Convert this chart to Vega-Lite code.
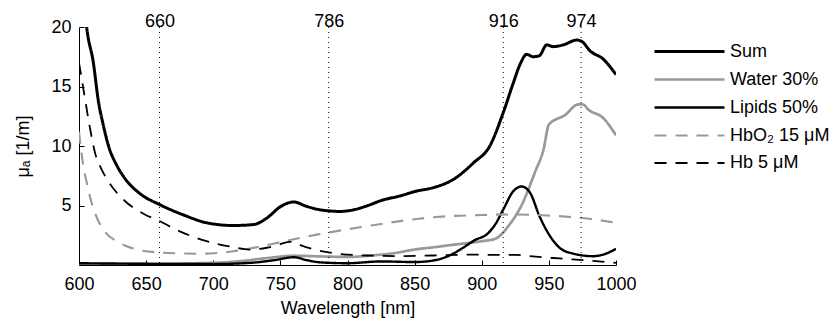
{
  "$schema": "https://vega.github.io/schema/vega-lite/v6.json",
  "width": 537,
  "height": 238,
  "autosize": "none",
  "padding": {"left": 79, "top": 27, "right": 219, "bottom": 56},
  "config": {
    "view": {"stroke": null},
    "font": "Liberation Sans",
    "axis": {"grid": false, "domainColor": "black", "tickColor": "black", "labelColor": "black", "titleColor": "black", "labelFontSize": 18, "titleFontSize": 18, "titleFontWeight": "normal", "labelFont": "Liberation Sans", "titleFont": "Liberation Sans"},
    "legend": {"labelFont": "Liberation Sans", "labelFontSize": 18, "labelColor": "black"}
  },
  "layer": [
    {
      "data": {"values": [
        {"s":"Sum","wl":600,"v":28},{"s":"Sum","wl":605.7,"v":20},{"s":"Sum","wl":610.7,"v":17.0},{"s":"Sum","wl":614.4,"v":13.8},{"s":"Sum","wl":618,"v":11.8},{"s":"Sum","wl":622,"v":10.0},{"s":"Sum","wl":628,"v":8.4},{"s":"Sum","wl":634,"v":7.3},{"s":"Sum","wl":646,"v":5.95},{"s":"Sum","wl":660,"v":5.08},{"s":"Sum","wl":678,"v":4.2},{"s":"Sum","wl":695,"v":3.55},{"s":"Sum","wl":715,"v":3.32},{"s":"Sum","wl":730,"v":3.4},{"s":"Sum","wl":740,"v":3.95},{"s":"Sum","wl":750,"v":4.9},{"s":"Sum","wl":760,"v":5.3},{"s":"Sum","wl":769,"v":4.95},{"s":"Sum","wl":779,"v":4.65},{"s":"Sum","wl":786,"v":4.55},{"s":"Sum","wl":794,"v":4.5},{"s":"Sum","wl":805,"v":4.65},{"s":"Sum","wl":814,"v":4.95},{"s":"Sum","wl":826,"v":5.45},{"s":"Sum","wl":839,"v":5.8},{"s":"Sum","wl":851,"v":6.2},{"s":"Sum","wl":864,"v":6.5},{"s":"Sum","wl":879,"v":7.2},{"s":"Sum","wl":894,"v":8.6},{"s":"Sum","wl":906,"v":10.0},{"s":"Sum","wl":916,"v":12.8},{"s":"Sum","wl":923.5,"v":15.3},{"s":"Sum","wl":928.5,"v":16.85},{"s":"Sum","wl":933.5,"v":17.7},{"s":"Sum","wl":938.4,"v":17.5},{"s":"Sum","wl":943,"v":17.6},{"s":"Sum","wl":948.4,"v":18.5},{"s":"Sum","wl":953.3,"v":18.35},{"s":"Sum","wl":960.8,"v":18.5},{"s":"Sum","wl":970.7,"v":18.9},{"s":"Sum","wl":974.4,"v":18.8},{"s":"Sum","wl":980.6,"v":18.0},{"s":"Sum","wl":990.5,"v":17.3},{"s":"Sum","wl":1000,"v":16.0},
        {"s":"Water 30%","wl":600,"v":0.08},{"s":"Water 30%","wl":650,"v":0.1},{"s":"Water 30%","wl":700,"v":0.18},{"s":"Water 30%","wl":720,"v":0.32},{"s":"Water 30%","wl":740,"v":0.58},{"s":"Water 30%","wl":760,"v":0.78},{"s":"Water 30%","wl":780,"v":0.72},{"s":"Water 30%","wl":800,"v":0.68},{"s":"Water 30%","wl":820,"v":0.82},{"s":"Water 30%","wl":835,"v":1.0},{"s":"Water 30%","wl":850,"v":1.3},{"s":"Water 30%","wl":865,"v":1.5},{"s":"Water 30%","wl":875,"v":1.65},{"s":"Water 30%","wl":890,"v":1.85},{"s":"Water 30%","wl":900,"v":2.0},{"s":"Water 30%","wl":910,"v":2.2},{"s":"Water 30%","wl":920,"v":3.3},{"s":"Water 30%","wl":930,"v":5.1},{"s":"Water 30%","wl":940,"v":7.9},{"s":"Water 30%","wl":946,"v":9.7},{"s":"Water 30%","wl":950,"v":11.8},{"s":"Water 30%","wl":962,"v":12.6},{"s":"Water 30%","wl":972,"v":13.5},{"s":"Water 30%","wl":975,"v":13.5},{"s":"Water 30%","wl":980,"v":13.0},{"s":"Water 30%","wl":990,"v":12.4},{"s":"Water 30%","wl":1000,"v":10.9},
        {"s":"Lipids 50%","wl":600,"v":0.15},{"s":"Lipids 50%","wl":650,"v":0.1},{"s":"Lipids 50%","wl":700,"v":0.08},{"s":"Lipids 50%","wl":730,"v":0.2},{"s":"Lipids 50%","wl":745,"v":0.4},{"s":"Lipids 50%","wl":760,"v":0.65},{"s":"Lipids 50%","wl":770,"v":0.4},{"s":"Lipids 50%","wl":780,"v":0.22},{"s":"Lipids 50%","wl":800,"v":0.15},{"s":"Lipids 50%","wl":825,"v":0.3},{"s":"Lipids 50%","wl":850,"v":0.25},{"s":"Lipids 50%","wl":865,"v":0.4},{"s":"Lipids 50%","wl":875,"v":0.75},{"s":"Lipids 50%","wl":884,"v":1.3},{"s":"Lipids 50%","wl":895,"v":2.1},{"s":"Lipids 50%","wl":904,"v":2.6},{"s":"Lipids 50%","wl":910,"v":3.4},{"s":"Lipids 50%","wl":916,"v":4.66},{"s":"Lipids 50%","wl":923.5,"v":6.2},{"s":"Lipids 50%","wl":929.7,"v":6.6},{"s":"Lipids 50%","wl":936,"v":6.07},{"s":"Lipids 50%","wl":943,"v":4.1},{"s":"Lipids 50%","wl":951,"v":2.4},{"s":"Lipids 50%","wl":958,"v":1.45},{"s":"Lipids 50%","wl":968,"v":0.96},{"s":"Lipids 50%","wl":983,"v":0.74},{"s":"Lipids 50%","wl":990.6,"v":0.88},{"s":"Lipids 50%","wl":1000,"v":1.36},
        {"s":"HbO₂ 15 μM","wl":600,"v":11.2},{"s":"HbO₂ 15 μM","wl":603,"v":8.5},{"s":"HbO₂ 15 μM","wl":606,"v":6.8},{"s":"HbO₂ 15 μM","wl":610,"v":5.0},{"s":"HbO₂ 15 μM","wl":614,"v":3.8},{"s":"HbO₂ 15 μM","wl":620,"v":2.7},{"s":"HbO₂ 15 μM","wl":628,"v":2.0},{"s":"HbO₂ 15 μM","wl":635,"v":1.6},{"s":"HbO₂ 15 μM","wl":645,"v":1.25},{"s":"HbO₂ 15 μM","wl":660,"v":1.05},{"s":"HbO₂ 15 μM","wl":690,"v":0.95},{"s":"HbO₂ 15 μM","wl":715,"v":1.15},{"s":"HbO₂ 15 μM","wl":735,"v":1.55},{"s":"HbO₂ 15 μM","wl":755,"v":2.05},{"s":"HbO₂ 15 μM","wl":777,"v":2.55},{"s":"HbO₂ 15 μM","wl":800,"v":3.0},{"s":"HbO₂ 15 μM","wl":825,"v":3.45},{"s":"HbO₂ 15 μM","wl":850,"v":3.85},{"s":"HbO₂ 15 μM","wl":875,"v":4.1},{"s":"HbO₂ 15 μM","wl":900,"v":4.2},{"s":"HbO₂ 15 μM","wl":925,"v":4.25},{"s":"HbO₂ 15 μM","wl":950,"v":4.15},{"s":"HbO₂ 15 μM","wl":975,"v":3.95},{"s":"HbO₂ 15 μM","wl":1000,"v":3.55},
        {"s":"Hb 5 μM","wl":600,"v":17.0},{"s":"Hb 5 μM","wl":604,"v":14.3},{"s":"Hb 5 μM","wl":608,"v":11.6},{"s":"Hb 5 μM","wl":612,"v":9.4},{"s":"Hb 5 μM","wl":617,"v":8.0},{"s":"Hb 5 μM","wl":622,"v":7.0},{"s":"Hb 5 μM","wl":634,"v":5.4},{"s":"Hb 5 μM","wl":649,"v":4.25},{"s":"Hb 5 μM","wl":660,"v":3.7},{"s":"Hb 5 μM","wl":670,"v":3.1},{"s":"Hb 5 μM","wl":695,"v":2.0},{"s":"Hb 5 μM","wl":715,"v":1.5},{"s":"Hb 5 μM","wl":727,"v":1.3},{"s":"Hb 5 μM","wl":740,"v":1.45},{"s":"Hb 5 μM","wl":750,"v":1.75},{"s":"Hb 5 μM","wl":757,"v":1.95},{"s":"Hb 5 μM","wl":767,"v":1.58},{"s":"Hb 5 μM","wl":777,"v":1.25},{"s":"Hb 5 μM","wl":789,"v":1.0},{"s":"Hb 5 μM","wl":814,"v":0.8},{"s":"Hb 5 μM","wl":839,"v":0.75},{"s":"Hb 5 μM","wl":864,"v":0.8},{"s":"Hb 5 μM","wl":890,"v":0.87},{"s":"Hb 5 μM","wl":915,"v":0.85},{"s":"Hb 5 μM","wl":925,"v":0.85},{"s":"Hb 5 μM","wl":940,"v":0.7},{"s":"Hb 5 μM","wl":958,"v":0.55},{"s":"Hb 5 μM","wl":983,"v":0.35},{"s":"Hb 5 μM","wl":1000,"v":0.18}
      ]},
      "mark": {"type": "line", "interpolate": "monotone", "clip": true},
      "encoding": {
        "x": {"field": "wl", "type": "quantitative", "scale": {"domain": [600, 1000], "nice": false, "zero": false},
              "axis": {"orient": "bottom", "values": [600,650,700,750,800,850,900,950,1000], "format": "d", "title": "Wavelength [nm]", "tickSize": -5, "labelPadding": 15, "titlePadding": 6, "labelFlush": false}},
        "y": {"field": "v", "type": "quantitative", "scale": {"domain": [0, 20], "nice": false},
              "axis": {"values": [5,10,15,20], "title": "μₐ [1/m]", "tickSize": -5, "labelPadding": 13, "titlePadding": 18}},
        "color": {"field": "s", "type": "nominal", "sort": null,
                  "scale": {"domain": ["Sum","Water 30%","Lipids 50%","HbO₂ 15 μM","Hb 5 μM"], "range": ["#000000","#999999","#000000","#999999","#000000"]},
                  "legend": {"title": null, "orient": "none", "legendX": 594, "legendY": 8, "symbolType": "M-2.333,0H2.333", "symbolSize": 900, "labelOffset": 24, "rowPadding": 2}},
        "strokeDash": {"field": "s", "type": "nominal", "sort": null,
                  "scale": {"domain": ["Sum","Water 30%","Lipids 50%","HbO₂ 15 μM","Hb 5 μM"], "range": [[1,0],[1,0],[1,0],[12,9],[12,9]]}},
        "strokeWidth": {"field": "s", "type": "nominal", "sort": null,
                  "scale": {"domain": ["Sum","Water 30%","Lipids 50%","HbO₂ 15 μM","Hb 5 μM"], "range": [3,1.8,1.8,1.8,1.8]}}
      }
    },
    {
      "data": {"values": [{"wl": 660}, {"wl": 786}, {"wl": 916}, {"wl": 974}]},
      "mark": {"type": "rule", "strokeDash": [1, 4], "color": "black", "strokeWidth": 1},
      "encoding": {
        "x": {"field": "wl", "type": "quantitative", "scale": {"domain": [600, 1000], "nice": false, "zero": false},
              "axis": {"orient": "top", "values": [660,786,916,974], "domain": false, "ticks": false, "title": null, "labelPadding": -3}}
      }
    }
  ],
  "resolve": {"axis": {"x": "independent"}}
}
